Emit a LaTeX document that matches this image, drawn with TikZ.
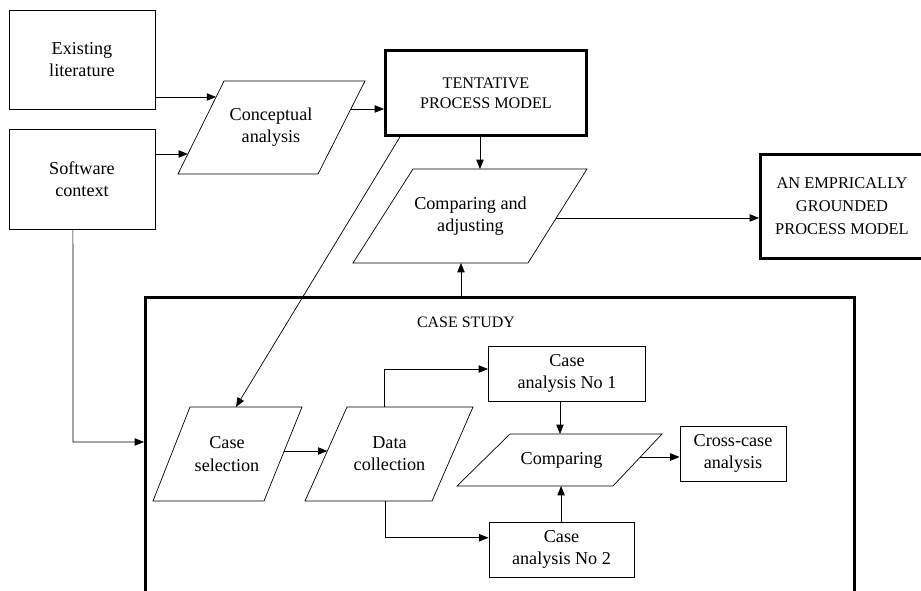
\documentclass[tikz,border=0pt]{standalone}
\usepackage{fontspec}
\setmainfont{Liberation Serif}
\usetikzlibrary{arrows.meta,calc}

\newcommand\pu{0.03cm}
% parallelogram: #1 name, #2 top-left x, #3 top-right x, #4 top y,
% #5 bottom-left x, #6 bottom-right x, #7 bottom y
\newcommand\paral[7]{%
  \coordinate (#1-tl) at (#2,#4);
  \coordinate (#1-tr) at (#3,#4);
  \coordinate (#1-br) at (#6,#7);
  \coordinate (#1-bl) at (#5,#7);
  \draw[parashape] (#1-tl) -- (#1-tr) -- (#1-br) -- (#1-bl) -- cycle;
}

\begin{document}
\begin{tikzpicture}[x=\pu, y=-\pu,
  txt/.style={align=center, inner sep=0pt,
    font=\fontsize{15.5}{19}\selectfont},
  captxt/.style={align=center, inner sep=0pt,
    font=\fontsize{13.6}{20}\selectfont},
  thinbox/.style={draw, line width=0.8pt, inner sep=0pt, align=center,
    font=\fontsize{15.5}{19}\selectfont},
  thickbox/.style={draw, line width=2.5pt, inner sep=0pt, align=center},
  parashape/.style={line width=0.6pt},
  arr/.style={line width=0.6pt, -{Triangle[length=0.28cm,width=0.22cm]}},
  plain/.style={line width=0.6pt}]

\useasboundingbox (0,0) rectangle (921,591);

% ---- input boxes ----
\node[thinbox, minimum width=146*\pu, minimum height=99*\pu] (lit) at (82,59.5)
  {Existing\\literature};
\node[thinbox, minimum width=146*\pu, minimum height=100*\pu] (sw) at (82,179)
  {Software\\context};

% ---- conceptual analysis ----
\paral{cp}{224}{365}{81}{178}{318}{174}
\node[txt] (cp) at ($(cp-tl)!0.5!(cp-br)$) {Conceptual\\analysis};

% ---- tentative model ----
\node[thickbox, minimum width=201*\pu, minimum height=85*\pu,
  font=\fontsize{13.8}{17.5}\selectfont] (tent) at (486,93)
  {TENTATIVE\\PROCESS MODEL};

% ---- comparing and adjusting ----
\paral{cadj}{413}{587}{169}{353}{528}{263}
\node[txt] (cadj) at ($(cadj-tl)!0.5!(cadj-br)$) {Comparing and\\adjusting};

% ---- final model ----
\node[thickbox, minimum width=163*\pu, minimum height=104*\pu,
  font=\fontsize{14}{19.6}\selectfont] (emp) at (842,206.5)
  {AN EMPRICALLY\\GROUNDED\\PROCESS MODEL};

% ---- case study frame ----
\node[draw, line width=2.5pt, minimum width=709*\pu, minimum height=341*\pu,
  inner sep=0pt] (cs) at (500,468) {};
\node[captxt] (cslabel) at (466,322) {CASE STUDY};

% ---- case study contents ----
\paral{csel}{190}{302}{407}{153}{264}{501}
\node[txt] (csel) at ($(csel-tl)!0.5!(csel-br)$) {Case\\selection};

\paral{dcol}{347}{473}{407}{305}{432}{501}
\node[txt] (dcol) at ($(dcol-tl)!0.5!(dcol-br)$) {Data\\collection};

\node[thinbox, minimum width=157*\pu, minimum height=55*\pu] (ca1) at (567,373.5)
  {Case\\analysis No 1};
\node[thinbox, minimum width=145*\pu, minimum height=55*\pu] (ca2) at (561.5,549.5)
  {Case\\analysis No 2};

\paral{cmp}{510}{662}{434}{457}{613}{486}
\node[txt] (cmp) at ($(cmp-tl)!0.5!(cmp-br)$) {Comparing};

\node[thinbox, minimum width=106*\pu, minimum height=55*\pu] (cross) at (733,453.5)
  {Cross-case\\analysis};

% ---- connection points on the slanted shapes ----
\coordinate (cpIn1) at ($(cp-bl)!0.828!(cp-tl)$);
\coordinate (cpIn2) at ($(cp-bl)!0.215!(cp-tl)$);
\coordinate (cpOut) at ($(cp-br)!0.699!(cp-tr)$);
\coordinate (cadjTop) at ($(cadj-tl)!0.385!(cadj-tr)$);
\coordinate (cadjBot) at ($(cadj-bl)!0.617!(cadj-br)$);
\coordinate (cadjOut) at ($(cadj-br)!0.479!(cadj-tr)$);
\coordinate (tentLow) at ($(tent.south west)!0.078!(tent.south east)$);
\coordinate (cselTop) at ($(csel-tl)!0.41!(csel-tr)$);
\coordinate (cselOut) at ($(csel-br)!0.532!(csel-tr)$);
\coordinate (dcolIn) at ($(dcol-bl)!0.532!(dcol-tl)$);
\coordinate (dcolTop) at ($(dcol-tl)!0.30!(dcol-tr)$);
\coordinate (dcolBot) at ($(dcol-bl)!0.63!(dcol-br)$);
\coordinate (ca1In) at ($(ca1.south west)!0.58!(ca1.north west)$);
\coordinate (ca2In) at ($(ca2.south west)!0.71!(ca2.north west)$);
\coordinate (cmpTop) at ($(cmp-tl)!0.329!(cmp-tr)$);
\coordinate (cmpBot) at ($(cmp-bl)!0.667!(cmp-br)$);
\coordinate (cmpOut) at ($(cmp-br)!0.558!(cmp-tr)$);
\coordinate (swDown) at ($(sw.south west)!0.438!(sw.south east)$);
\coordinate (swTurn) at (73,442);

% ---- connectors ----
\draw[arr] (lit.east |- cpIn1) -- (cpIn1);
\draw[arr] (sw.east |- cpIn2) -- (cpIn2);
\draw[arr] (cpOut) -- (tent.west |- cpOut);
\draw[arr] (tent.south -| cadjTop) -- (cadjTop);
\draw[arr] (tentLow) -- (cselTop);
\draw[arr] (cadjOut) -- (emp.west |- cadjOut);
\draw[arr] (cs.north -| cadjBot) -- (cadjBot);
\draw[arr] (swDown) -- (swTurn) -- (cs.west |- swTurn);
\draw[arr] (cselOut) -- (dcolIn);
\draw[arr] (dcolTop) |- (ca1In);
\draw[arr] (dcolBot) |- (ca2In);
\draw[arr] (ca1.south -| cmpTop) -- (cmpTop);
\draw[arr] (ca2.north -| cmpBot) -- (cmpBot);
\draw[arr] (cmpOut) -- (cross.west |- cmpOut);

\end{tikzpicture}
\end{document}
